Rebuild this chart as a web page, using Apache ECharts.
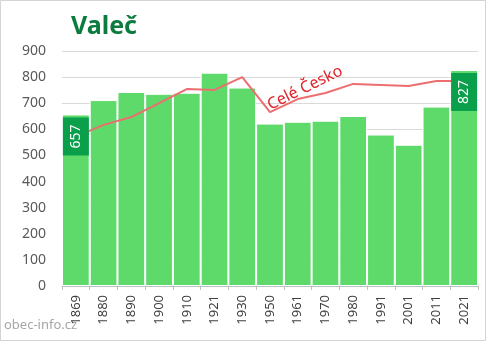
<!DOCTYPE html>
<html>
<head>
<meta charset="utf-8">
<script src="https://cdn.jsdelivr.net/npm/echarts@6/dist/echarts.min.js"></script>
<style>
  html, body { margin: 0; padding: 0; background: #fff; }
  #chart { width: 492px; height: 343px; }
</style>
</head>
<body>
<div id="chart"></div>
<script>
// Census years
const years = ['1869', '1880', '1890', '1900', '1910', '1921', '1930', '1950',
               '1961', '1970', '1980', '1991', '2001', '2011', '2021'];
// Population of Valeč
const population = [657, 712, 743, 736, 740, 817, 760, 622, 629, 633, 651, 580, 541, 687, 827];
// Whole-country trend, rescaled to the village's level
const czechiaScaled = [572, 617, 647, 700, 754, 751, 800, 666, 716, 739, 774, 770, 766, 785, 785];
// Y axis ticks
const yMin = 0, yMax = 900, yStep = 100;

const lastIdx = population.length - 1;

const labelStyle = {
  show: true,
  position: 'insideTop',
  distance: 3,
  rotate: 90,
  align: 'right',
  verticalAlign: 'middle',
  color: '#ffffff',
  fontFamily: 'Noto Sans',
  fontSize: 14,
  lineHeight: 16,
  backgroundColor: '#0a9f4b',
  padding: [5, 7, 5, 7]
};

const labelBars = population.map((v, i) => ({
  value: v,
  label: (i === 0 || i === lastIdx) ? labelStyle : { show: false }
}));

const chart = echarts.init(document.getElementById('chart'), null, { renderer: 'canvas' });

chart.setOption({
  animation: false,
  backgroundColor: '#ffffff',
  title: {
    text: 'Valeč',
    left: 66,
    top: 9,
    textStyle: { color: '#0b7b3e', fontSize: 25, fontWeight: 'bold', fontFamily: 'Noto Sans' }
  },
  grid: { left: 62, right: 14, top: 51, bottom: 57, containLabel: false },
  xAxis: {
    type: 'category',
    data: years,
    axisLine: { show: true, lineStyle: { color: '#bfbfbf' } },
    axisTick: { show: true, interval: 0, length: 4, lineStyle: { color: '#bfbfbf' } },
    axisLabel: {
      interval: 0, rotate: 90, margin: 9,
      color: '#404040', fontSize: 13, fontFamily: 'Noto Sans'
    }
  },
  yAxis: {
    type: 'value',
    min: yMin, max: yMax, interval: yStep,
    axisLine: { show: false },
    axisTick: { show: false },
    axisLabel: { color: '#595959', fontSize: 14, fontFamily: 'Noto Sans', margin: 16 },
    splitLine: { lineStyle: { color: '#d9d9d9', width: 1 } }
  },
  series: [
    {
      type: 'bar',
      data: population,
      barCategoryGap: '0%',
      itemStyle: { color: '#5dda6a', borderColor: '#ffffff', borderWidth: 1 },
      z: 1
    },
    {
      type: 'line',
      data: czechiaScaled,
      symbol: 'none',
      lineStyle: { color: '#ec6e70', width: 2 },
      z: 2
    },
    {
      // transparent overlay that carries the value boxes above the line
      type: 'bar',
      data: labelBars,
      barGap: '-100%',
      barCategoryGap: '0%',
      itemStyle: { color: 'rgba(0,0,0,0)' },
      z: 3
    }
  ],
  graphic: [
    {
      type: 'text',
      x: 305, y: 88,
      rotation: 26 * Math.PI / 180,
      style: {
        text: 'Celé Česko',
        fill: '#e0242a',
        fontSize: 16,
        fontFamily: 'Noto Sans',
        align: 'center',
        verticalAlign: 'middle'
      },
      z: 10
    },
    {
      type: 'text',
      left: 4, top: 319,
      style: { text: 'obec-info.cz', fill: '#a6a6a6', fontSize: 13, fontFamily: 'Noto Sans' }
    },
    {
      type: 'rect',
      shape: { x: 0.5, y: 0.5, width: 485, height: 340 },
      style: { fill: 'none', stroke: '#d4d4d4', lineWidth: 1 },
      silent: true
    }
  ]
});
</script>
</body>
</html>
